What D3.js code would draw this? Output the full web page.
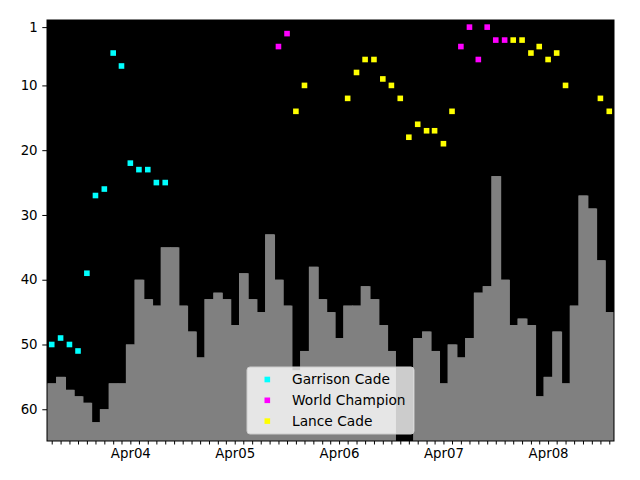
<!DOCTYPE html>
<html>
<head>
<meta charset="utf-8">
<script src="https://cdn.jsdelivr.net/npm/d3@7"></script>
<style>
  html, body { margin: 0; padding: 0; background: #ffffff; }
  svg { display: block; }
  text { font-family: "DejaVu Sans", sans-serif; }
</style>
</head>
<body>
<svg id="chart" width="640" height="480"></svg>
<script>
// ---- data ----
const firstMonth = new Date(2003, 6, 1);   // Jul 2003
const monthCount = 65;                      // Jul 2003 .. Nov 2008
const barRank = [56,55,57,58,59,62,60,56,56,50,40,43,44,35,35,44,48,52,43,42,43,47,39,43,45,33,40,44,54,51,38,43,45,49,44,44,41,43,47,51,null,null,49,48,51,56,50,52,49,42,41,24,40,47,46,47,58,55,48,56,44,27,29,37,45];
const garrisonIdx  = [0,1,2,3,4,5,6,7,8,9,10,11,12,13];
const garrisonRank = [50,49,50,51,39,27,26,5,7,22,23,23,25,25];
const championIdx  = [26,27,47,48,49,50,51,52];
const championRank = [4,2,4,1,6,1,3,3];
const lanceIdx  = [28,29,34,35,36,37,38,39,40,41,42,43,44,45,46,53,54,55,56,57,58,59,63,64];
const lanceRank = [14,10,12,8,6,6,9,10,12,18,16,17,17,19,14,3,3,5,4,6,5,10,12,14];
const yTicks = [1,10,20,30,40,50,60];
const seriesNames  = ["Garrison Cade", "World Champion", "Lance Cade"];
const seriesColors = ["#00ffff", "#ff00ff", "#ffff00"];

// ---- layout ----
const L = 47, R = 614, T = 20, B = 441;
const svg = d3.select("#chart");

const months = d3.range(monthCount).map(i => d3.timeMonth.offset(firstMonth, i));
const lastMonth = months[months.length - 1];
const x = d3.scaleTime()
  .domain([d3.timeHour.offset(firstMonth, -16.5 * 24), d3.timeHour.offset(lastMonth, 16.5 * 24)])
  .range([L, R]);
const y = d3.scaleLinear().domain([-0.1, 64.9]).range([T, B]);

// plot background
svg.append("rect").attr("x", L).attr("y", T).attr("width", R - L).attr("height", B - T).attr("fill", "#000000");

// bars
const centers = months.map(d => x(d));
function edgeLeft(i) {
  if (i === 0) return centers[0] - (centers[1] - centers[0]) / 2;
  return (centers[i - 1] + centers[i]) / 2;
}
function edgeRight(i) {
  if (i === monthCount - 1) return centers[i] + (centers[i] - centers[i - 1]) / 2;
  return (centers[i] + centers[i + 1]) / 2;
}
const barData = barRank.map((v, i) => ({v, i})).filter(d => d.v !== null);
svg.append("g").selectAll("rect")
  .data(barData)
  .join("rect")
  .attr("x", d => edgeLeft(d.i))
  .attr("width", d => {
    const w = edgeRight(d.i) - edgeLeft(d.i);
    const nextHasBar = d.i < monthCount - 1 && barRank[d.i + 1] !== null;
    return nextHasBar ? w + 1 : w;
  })
  .attr("y", d => y(d.v))
  .attr("height", d => B - y(d.v))
  .attr("fill", "#808080");
// redraw tops so overlaps don't hide taller neighbours' edges
svg.append("g").selectAll("rect")
  .data(barData)
  .join("rect")
  .attr("x", d => edgeLeft(d.i))
  .attr("width", d => edgeRight(d.i) - edgeLeft(d.i))
  .attr("y", d => y(d.v))
  .attr("height", d => B - y(d.v))
  .attr("fill", "#808080");

// markers
const ms = 5.6;
function drawSeries(idx, rank, color) {
  svg.append("g").selectAll("rect")
    .data(idx.map((i, k) => ({i, r: rank[k]})))
    .join("rect")
    .attr("x", d => x(months[d.i]) - ms / 2)
    .attr("y", d => y(d.r) - ms / 2)
    .attr("width", ms).attr("height", ms)
    .attr("fill", color);
}
drawSeries(garrisonIdx, garrisonRank, seriesColors[0]);
drawSeries(championIdx, championRank, seriesColors[1]);
drawSeries(lanceIdx, lanceRank, seriesColors[2]);

// axes
const xAxis = d3.axisBottom(x)
  .tickValues(months)
  .tickSize(3.5).tickSizeOuter(0).tickPadding(4.5)
  .tickFormat(d => d.getMonth() === 3 ? d3.timeFormat("%b%y")(d) : "");
const gx = svg.append("g").attr("transform", `translate(0,${B})`).call(xAxis);
gx.selectAll("text").attr("font-size", "13.33px").attr("font-family", "DejaVu Sans").attr("fill", "#000");
gx.selectAll("line").attr("stroke", "#000").attr("stroke-width", 1);

const yAxis = d3.axisLeft(y).tickValues(yTicks).tickSize(4.7).tickSizeOuter(0).tickPadding(4.7);
const gy = svg.append("g").attr("transform", `translate(${L},0)`).call(yAxis);
gy.selectAll("text").attr("font-size", "13.33px").attr("font-family", "DejaVu Sans").attr("fill", "#000");
gy.selectAll("line").attr("stroke", "#000");
svg.selectAll(".domain").remove();

// frame
svg.append("rect").attr("x", L).attr("y", T).attr("width", R - L).attr("height", B - T)
  .attr("fill", "none").attr("stroke", "#000").attr("stroke-width", 1);

// legend
const lg = svg.append("g");
lg.append("rect").attr("x", 247).attr("y", 367).attr("width", 167).attr("height", 67)
  .attr("rx", 3).attr("ry", 3)
  .attr("fill", "#ffffff").attr("fill-opacity", 0.8)
  .attr("stroke", "#cccccc").attr("stroke-width", 1);
seriesNames.forEach((name, k) => {
  const cy = 379.5 + k * 20.8;
  lg.append("rect").attr("x", 267.3 - ms / 2).attr("y", cy - ms / 2).attr("width", ms).attr("height", ms)
    .attr("fill", seriesColors[k]);
  lg.append("text").attr("x", 292).attr("y", cy).attr("dy", "0.36em")
    .attr("font-size", "13.75px").attr("fill", "#000").text(name);
});
</script>
</body>
</html>
